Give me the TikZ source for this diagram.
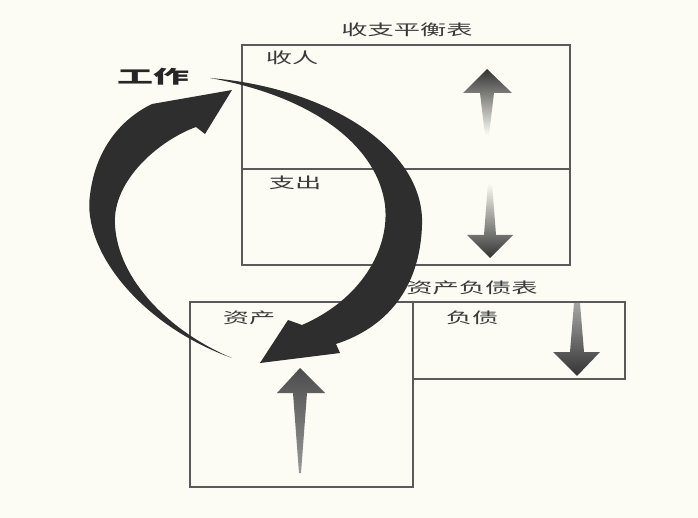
\documentclass[tikz,border=0pt]{standalone}
\usepackage{fontspec}
\newfontfamily\cjk{Noto Sans CJK SC}
\usetikzlibrary{calc}
\definecolor{paper}{HTML}{FCFCF4}
\definecolor{ink}{HTML}{3A3A3A}
\definecolor{boxline}{HTML}{5A5A5A}
\definecolor{bigarrow}{HTML}{2E2E2E}
\tikzset{
  cjktext/.style={text=ink, font=\cjk\fontsize{15}{15}\selectfont, xscale=1.75, inner sep=0pt},
  worktext/.style={text=black!85, font=\cjk\bfseries\fontsize{18}{18}\selectfont, xscale=2, inner sep=0pt},
  boxframe/.style={draw=boxline, line width=1.3pt}
}

\begin{document}
\begin{tikzpicture}[x=1pt,y=-1pt]
% Page size
\def\W{698}
\def\H{518}
% Income statement box
\def\ISleft{242}
\def\ISright{570}
\def\IStop{45}
\def\ISmid{169}
\def\ISbottom{265}
% Balance sheet boxes
\def\BSleft{190}
\def\BSmid{413}
\def\BSright{625}
\def\BStop{302}
\def\BSdebt{379}
\def\BSbottom{487}
% Background
\fill[paper] (0,0) rectangle (\W,\H);
\useasboundingbox (0,0) rectangle (\W,\H);
% Income statement
\draw[boxframe] (\ISleft,\IStop) rectangle (\ISright,\ISbottom);
\draw[boxframe] (\ISleft,\ISmid) -- (\ISright,\ISmid);
\node[cjktext] (istitle) at (407,30) {收支平衡表};
\node[cjktext] (income) at (292,58) {收人};
\node[cjktext] (expense) at (295,183) {支出};
% Balance sheet
\draw[boxframe] (\BSleft,\BStop) rectangle (\BSmid,\BSbottom);
\draw[boxframe] (\BSmid,\BStop) rectangle (\BSright,\BSdebt);
\node[cjktext] (bstitle) at (472,288) {资产负债表};
\node[cjktext] (assets) at (249,318) {资产};
\node[cjktext] (debts) at (472,318) {负债};
% Work label
\node[worktext] (work) at (153,77) {工作};
% Small shaded arrows
\shade[top color=black!80, bottom color=paper] (487,69) -- (512,93) -- (494,93)
  -- (489,135) -- (485,135) -- (480,93) -- (463,93) -- cycle; % income up
\shade[top color=paper, bottom color=black!80] (488,183) -- (492,183) -- (496,235)
  -- (513,235) -- (490,258) -- (467,235) -- (484,235) -- cycle; % expense down
\shade[top color=black!35, bottom color=black!80] (574,303) -- (580,303) -- (584,352)
  -- (600,352) -- (577,376) -- (553,352) -- (570,352) -- cycle; % debts down
\shade[top color=black!70, bottom color=black!40] (300,368) -- (325,393) -- (307,393)
  -- (301,473) -- (299,473) -- (293,393) -- (277,393) -- cycle; % assets up
% Big curved arrow from work down to assets
\coordinate (T1) at (210,78);
\coordinate (H1) at (260,363);
\fill[bigarrow] (T1) .. controls (330,88) and (425,150) .. (422,225)
  .. controls (420,290) and (385,328) .. (336,344)
  -- (340,353) -- (H1) -- (288,320) -- (302,325)
  .. controls (360,300) and (390,250) .. (385,205)
  .. controls (378,150) and (320,98) .. (T1) -- cycle;
% Big curved arrow from assets back up to work
\coordinate (T2) at (232,358);
\coordinate (H2) at (232,90);
\fill[bigarrow] (T2) .. controls (140,325) and (82,250) .. (90,195)
  .. controls (96,145) and (125,117) .. (152,104)
  -- (H2) -- (205,134) -- (196,127)
  .. controls (160,140) and (112,180) .. (115,225)
  .. controls (118,280) and (170,332) .. (T2) -- cycle;
\end{tikzpicture}
\end{document}
